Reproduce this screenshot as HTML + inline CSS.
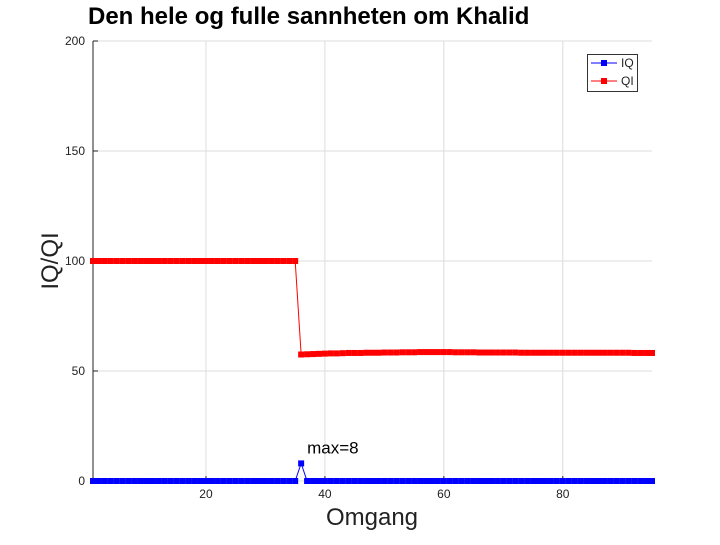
<!DOCTYPE html>
<html><head><meta charset="utf-8"><style>
body{margin:0;background:#fff;font-family:"Liberation Sans",sans-serif}
svg text{font-family:"Liberation Sans",sans-serif}
</style></head><body>
<svg id="c" width="720" height="540"></svg>
<script>
const xTicks=[20,40,60,80];
const yTicks=[0,50,100,150,200];
const iqValues=[];
const qiValues=[];
const iqSpike={x:36,v:8};
const qiHigh=100;
const qiLowSeg=[57.5,57.6,57.7,57.8,57.9,58.0,58.0,58.1,58.2,58.2,58.2,58.3,58.3,58.3,58.4,58.4,58.4,58.5,58.5,58.5,58.6,58.6,58.6,58.6,58.6,58.6,58.5,58.5,58.5,58.5,58.4,58.4,58.4,58.4,58.4,58.4,58.4,58.3,58.3,58.3,58.3,58.3,58.3,58.3,58.3,58.3,58.3,58.3,58.3,58.3,58.3,58.3,58.3,58.3,58.3,58.3,58.2,58.2,58.2,58.2];
for(let i=1;i<=95;i++){iqValues.push(i===iqSpike.x?iqSpike.v:0);}
for(let i=1;i<=35;i++)qiValues.push(qiHigh);
for(const v of qiLowSeg)qiValues.push(v);
const NS="http://www.w3.org/2000/svg";
const svg=document.getElementById('c');
const X0=1,X1=95,PX0=93,PX1=652,PY0=481,PY1=41;
const sx=v=>PX0+(v-X0)/(X1-X0)*(PX1-PX0);
const sy=v=>PY0-(v/200)*(PY0-PY1);
function el(t,a,txt){const e=document.createElementNS(NS,t);for(const k in a)e.setAttribute(k,a[k]);if(txt!==undefined)e.textContent=txt;svg.appendChild(e);return e;}
for(const t of xTicks){const g=el('line',{x1:sx(t),x2:sx(t),y1:PY1,y2:PY0,stroke:'#dcdcdc'});


const tk=el('line',{x1:sx(t),x2:sx(t),y1:PY0,y2:PY0-5,stroke:'#222'});


const l=el('text',{x:sx(t),y:PY0+17,'font-size':12,'text-anchor':'middle',fill:'#222'},t);

}
for(const t of yTicks){const g=el('line',{x1:PX0,x2:PX1,y1:sy(t),y2:sy(t),stroke:'#dcdcdc'});


const tk=el('line',{x1:PX0,x2:PX0+5,y1:sy(t),y2:sy(t),stroke:'#222'});


const l=el('text',{x:PX0-8,y:sy(t)+4,'font-size':12,'text-anchor':'end',fill:'#222'},t);

}
const ax=el('path',{d:`M${PX0},${PY1}V${PY0}`,stroke:'#222',fill:'none'});


function series(vals,color,name){
const pts=vals.map((v,i)=>sx(i+1)+','+sy(v)).join(' ');
const p=el('polyline',{points:pts,fill:'none',stroke:color,'stroke-width':1});


vals.forEach((v,i)=>{const r=el('rect',{x:sx(i+1)-3,y:sy(v)-3,width:6,height:6,fill:color});

});}
series(qiValues,'#ff0000','qi');
series(iqValues,'#0000ff','iq');
const ann=el('text',{x:sx(iqSpike.x)+6,y:sy(iqSpike.v)-10,'font-size':17,fill:'#000'},'max='+iqSpike.v);


const t=el('text',{x:88,y:24,'font-size':24,'font-weight':'bold',fill:'#000'},'Den hele og fulle sannheten om Khalid');


const xl=el('text',{x:372,y:525,'font-size':24,'text-anchor':'middle',fill:'#222'},'Omgang');


const yl=el('text',{x:0,y:0,'font-size':24,'text-anchor':'middle',fill:'#222',transform:'translate(58,261) rotate(-90)'},'IQ/QI');


const lg=el('rect',{x:587.5,y:54.5,width:50,height:37,fill:'#fff',stroke:'#333'});


[['IQ','#0000ff',63],['QI','#ff0000',81]].forEach(([n,c,y])=>{
const l=el('line',{x1:591,x2:617,y1:y,y2:y,stroke:c});


const m=el('rect',{x:601,y:y-3,width:6,height:6,fill:c});


const tx=el('text',{x:621,y:y+4,'font-size':12,fill:'#222'},n);

});
</script>
</body></html>
